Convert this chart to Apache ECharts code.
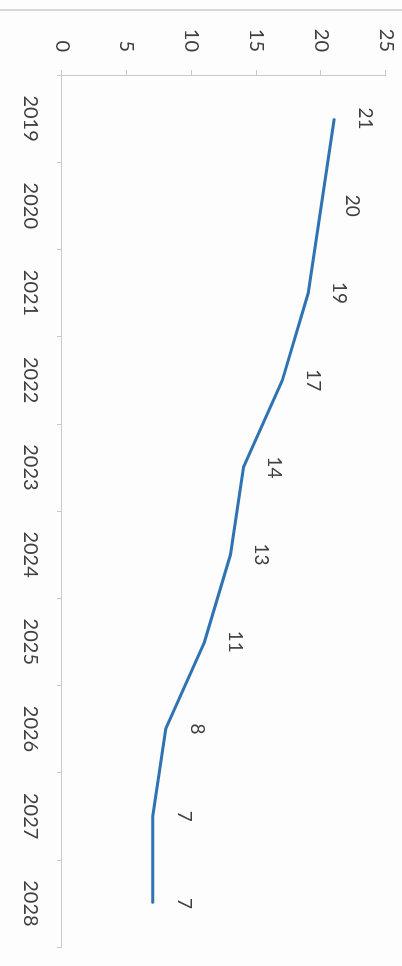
<!DOCTYPE html>
<html>
<head>
<meta charset="utf-8">
<script src="https://cdn.jsdelivr.net/npm/echarts@6/dist/echarts.min.js"></script>
<style>
  html, body { margin: 0; padding: 0; background: #fdfdfd; overflow: hidden; }
  #frame { position: absolute; left: 0; top: 0; width: 402px; height: 966px; overflow: hidden; }
  /* landscape chart turned a quarter clockwise to sit in the portrait page */
  #chart {
    position: absolute; left: 0; top: 0;
    width: 966px; height: 402px;
    transform-origin: 0 0;
    transform: translate(402px, 0) rotate(90deg);
  }
</style>
</head>
<body>
<div id="frame"><div id="chart"></div></div>
<script>
const years = ['2019', '2020', '2021', '2022', '2023', '2024', '2025', '2026', '2027', '2028'];
const values = [21, 20, 19, 17, 14, 13, 11, 8, 7, 7];
const valueTicks = { min: 0, max: 25, interval: 5 };

const textColor = '#404040';
const axisColor = '#c9c9c9';
const lineColor = '#2f73b3';
const fontFamily = 'Lato, "Open Sans", sans-serif';

const chart = echarts.init(document.getElementById('chart'), null, { renderer: 'canvas' });

chart.setOption({
  backgroundColor: '#fdfdfd',
  animation: false,
  grid: { left: 75, right: 19, top: 16, bottom: 62, containLabel: false },
  xAxis: {
    type: 'category',
    data: years,
    boundaryGap: true,
    axisLine: { show: true, lineStyle: { color: axisColor, width: 1 } },
    axisTick: { show: true, alignWithLabel: false, length: 5, lineStyle: { color: axisColor } },
    axisLabel: { color: textColor, fontFamily: fontFamily, fontSize: 20, margin: 22 },
    splitLine: { show: false }
  },
  yAxis: {
    type: 'value',
    min: valueTicks.min,
    max: valueTicks.max,
    interval: valueTicks.interval,
    axisLine: { show: true, lineStyle: { color: axisColor, width: 1 } },
    axisTick: { show: true, length: 5, lineStyle: { color: axisColor } },
    axisLabel: { color: textColor, fontFamily: fontFamily, fontSize: 20, margin: 23 },
    splitLine: { show: false }
  },
  series: [{
    type: 'line',
    data: values,
    // tiny symbols so the value labels are attached to each point
    symbol: 'circle',
    symbolSize: 1,
    showSymbol: true,
    itemStyle: { color: lineColor },
    lineStyle: { color: lineColor, width: 3 },
    label: {
      show: true,
      position: 'top',
      distance: 21,
      color: textColor,
      fontFamily: fontFamily,
      fontSize: 19
    }
  }],
  graphic: [{
    type: 'line',
    shape: { x1: 10, y1: 0, x2: 10, y2: 402 },
    style: { stroke: '#b5b5b5', lineWidth: 1 }
  }]
});
</script>
</body>
</html>
